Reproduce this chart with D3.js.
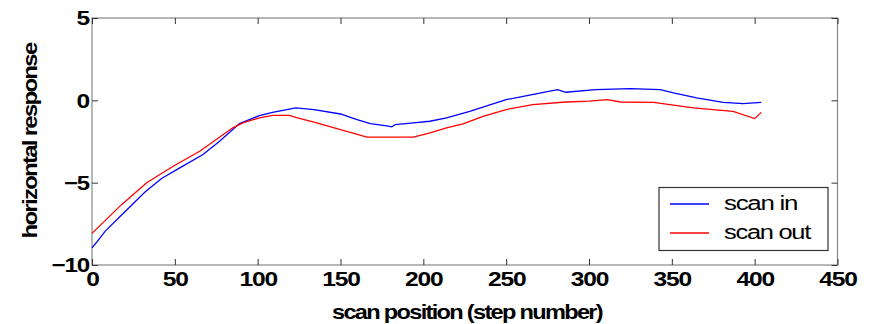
<!DOCTYPE html>
<html>
<head>
<meta charset="utf-8">
<script src="https://cdn.jsdelivr.net/npm/d3@7"></script>
<style>
  body { margin: 0; background: #fff; }
  text { font-family: "Liberation Sans", Arial, sans-serif; fill: #000; }
</style>
</head>
<body>
<div id="chart"></div>
<script>
const xTicks = [0, 50, 100, 150, 200, 250, 300, 350, 400, 450];
const yTicks = [-10, -5, 0, 5];

const scanInX = [0, 3, 8, 20, 32, 42, 53, 67, 77, 89, 101, 109, 123, 134, 150, 160, 168, 178, 181, 183, 194, 204, 214, 228, 250, 268, 281, 286, 304, 325, 343, 351, 365, 381, 393, 404];
const scanInY = [-8.95, -8.6, -7.94, -6.75, -5.57, -4.75, -4.1, -3.29, -2.48, -1.41, -0.93, -0.73, -0.46, -0.56, -0.83, -1.17, -1.41, -1.55, -1.61, -1.47, -1.37, -1.27, -1.07, -0.67, 0.04, 0.39, 0.65, 0.49, 0.65, 0.71, 0.65, 0.45, 0.15, -0.12, -0.2, -0.12];

const scanOutX = [0, 18, 33, 49, 65, 75, 85, 91, 101, 109, 119, 124, 134, 150, 166, 194, 204, 214, 224, 236, 250, 266, 286, 300, 311, 319, 339, 363, 387, 400, 404];
const scanOutY = [-8.08, -6.32, -5.0, -4.0, -3.09, -2.38, -1.67, -1.37, -1.07, -0.91, -0.91, -1.07, -1.33, -1.78, -2.24, -2.24, -1.98, -1.67, -1.43, -0.97, -0.56, -0.26, -0.1, -0.05, 0.04, -0.1, -0.12, -0.46, -0.67, -1.11, -0.73];

const seriesNames = ['scan in', 'scan out'];
const seriesColors = ['#0000ff', '#ff0000'];

const w = 874, h = 324;
const m = { left: 92, top: 18, right: 874 - 837.5, bottom: 324 - 265 };

const svg = d3.select('#chart').append('svg').attr('width', w).attr('height', h);

const x = d3.scaleLinear().domain([0, 450]).range([m.left, w - m.right]);
const y = d3.scaleLinear().domain([-10, 5]).range([h - m.bottom, m.top]);

// frame
svg.append('rect')
  .attr('x', x(0)).attr('y', y(5))
  .attr('width', x(450) - x(0)).attr('height', y(-10) - y(5))
  .attr('fill', 'none').attr('stroke', '#888').attr('stroke-width', 1.2);

const tickLen = 6;
// the source font is wide and tightly set, so squeeze each label to its width
const numStyle = s => s.style('font-size', '21px').style('font-weight', 'bold')
  .style('letter-spacing', '-1px')
  .attr('textLength', function () { return this.textContent.length * 12.5; })
  .attr('lengthAdjust', 'spacingAndGlyphs');

// bottom axis
const xAxis = svg.append('g').attr('transform', `translate(0,${y(-10)})`)
  .call(d3.axisBottom(x).tickValues(xTicks).tickSize(-tickLen).tickPadding(5));
xAxis.select('.domain').remove();
xAxis.selectAll('line').attr('stroke', '#333');
xAxis.selectAll('text').call(numStyle).attr('dy', '0.75em');

// top ticks
svg.append('g').attr('transform', `translate(0,${y(5)})`)
  .call(d3.axisTop(x).tickValues(xTicks).tickSize(-tickLen).tickFormat(''))
  .call(g => g.select('.domain').remove())
  .selectAll('line').attr('stroke', '#333');

// left axis
const yAxis = svg.append('g').attr('transform', `translate(${x(0)},0)`)
  .call(d3.axisLeft(y).tickValues(yTicks).tickSize(-tickLen).tickPadding(3)
    .tickFormat(d => d < 0 ? '\u2212' + Math.abs(d) : d));
yAxis.select('.domain').remove();
yAxis.selectAll('line').attr('stroke', '#333');
yAxis.selectAll('text').call(numStyle);

// right ticks
svg.append('g').attr('transform', `translate(${x(450)},0)`)
  .call(d3.axisRight(y).tickValues(yTicks).tickSize(-tickLen).tickFormat(''))
  .call(g => g.select('.domain').remove())
  .selectAll('line').attr('stroke', '#333');

// lines
const line = d3.line().x(d => x(d[0])).y(d => y(d[1]));
const series = [d3.zip(scanInX, scanInY), d3.zip(scanOutX, scanOutY)];
series.forEach((pts, i) => {
  svg.append('path').datum(pts)
    .attr('d', line)
    .attr('fill', 'none')
    .attr('stroke', seriesColors[i])
    .attr('stroke-width', 1.3);
});

// axis titles
svg.append('text')
  .attr('x', 467).attr('y', 319)
  .attr('text-anchor', 'middle')
  .attr('textLength', 270).attr('lengthAdjust', 'spacingAndGlyphs')
  .style('font-size', '21px').style('font-weight', 'bold').style('letter-spacing', '-1.5px')
  .text('scan position (step number)');

svg.append('text')
  .attr('transform', 'translate(37,141) rotate(-90)')
  .attr('text-anchor', 'middle')
  .attr('textLength', 195).attr('lengthAdjust', 'spacingAndGlyphs')
  .style('font-size', '21px').style('font-weight', 'bold').style('letter-spacing', '-1.5px')
  .text('horizontal response');

// legend
const lg = svg.append('g');
lg.append('rect')
  .attr('x', 659).attr('y', 187.5).attr('width', 169).attr('height', 63)
  .attr('fill', '#fff').attr('stroke', '#333').attr('stroke-width', 1.2);
const legendW = [73, 86];
seriesNames.forEach((name, i) => {
  const ly = 204 + i * 29;
  lg.append('line').attr('x1', 670).attr('x2', 709).attr('y1', ly).attr('y2', ly)
    .attr('stroke', seriesColors[i]).attr('stroke-width', 1.3);
  lg.append('text').attr('x', 724).attr('y', ly + 6)
    .attr('textLength', legendW[i]).attr('lengthAdjust', 'spacingAndGlyphs')
    .style('font-size', '20px').style('letter-spacing', '-1px')
    .text(name);
});
</script>
</body>
</html>
